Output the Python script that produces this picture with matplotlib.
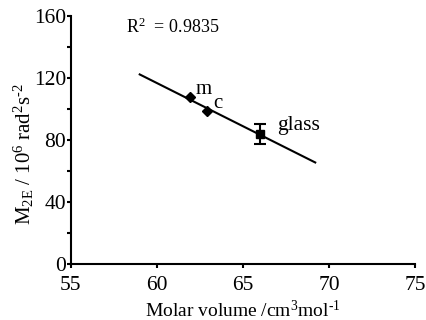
import matplotlib
matplotlib.use("Agg")
import matplotlib.pyplot as plt
import numpy as np
from matplotlib.ticker import MultipleLocator

plt.rcParams['font.family'] = ['Liberation Serif', 'DejaVu Serif']
plt.rcParams['mathtext.fontset'] = 'custom'
plt.rcParams['mathtext.rm'] = 'Liberation Serif'
plt.rcParams['mathtext.it'] = 'Liberation Serif'

# data
crystal_x = [61.9, 62.9]
crystal_y = [107.5, 99.0]
crystal_labels = ["m", "c"]
glass_x = [66.0]
glass_y = [84.0]
glass_err = [6.5]
fit_x = [59.0, 69.2]
fit_y = [122.3, 65.5]
r2_text = "R$^2$  = 0.9835"

fig = plt.figure(figsize=(4.27, 3.2), dpi=100)
ax = fig.add_axes([0.166, 0.175, 0.806, 0.775])

ax.plot(fit_x, fit_y, color='black', lw=1.5, zorder=2)
ax.plot(crystal_x, crystal_y, linestyle='none', marker='D', ms=5.5, color='black', zorder=3)
ax.errorbar(glass_x, glass_y, yerr=glass_err, fmt='s', ms=6, color='black',
            ecolor='black', elinewidth=1.5, capsize=4, capthick=1.5, zorder=3)

ax.text(62.25, 110.0, crystal_labels[0], fontsize=15)
ax.text(63.3, 100.5, crystal_labels[1], fontsize=15)
ax.text(67.0, 86.5, "glass", fontsize=15.5)
ax.text(58.2, 153, r2_text, fontsize=13, va='center')

ax.set_xlim(55, 75)
ax.set_ylim(0, 160)
ax.xaxis.set_major_locator(MultipleLocator(5))
ax.yaxis.set_major_locator(MultipleLocator(40))
ax.yaxis.set_minor_locator(MultipleLocator(20))

for s in ['top', 'right']:
    ax.spines[s].set_visible(False)
for s in ['left', 'bottom']:
    ax.spines[s].set_linewidth(1.5)

ax.tick_params(axis='both', which='major', direction='out', length=3, width=1.5,
               labelsize=15.5, pad=0.5)
ax.tick_params(axis='x', which='major', pad=6)
ax.tick_params(axis='y', which='minor', direction='out', length=3, width=1.5)

ax.set_xlabel("Molar volume /cm$^3$mol$^{\\text{-}1}$", fontsize=14, labelpad=3)
ax.set_ylabel("M$_{2E}$ / 10$^6$ rad$^2$s$^{\\text{-}2}$", fontsize=15)
ax.yaxis.set_label_coords(-0.1, 0.444)

fig.savefig("out.png", dpi=100)
